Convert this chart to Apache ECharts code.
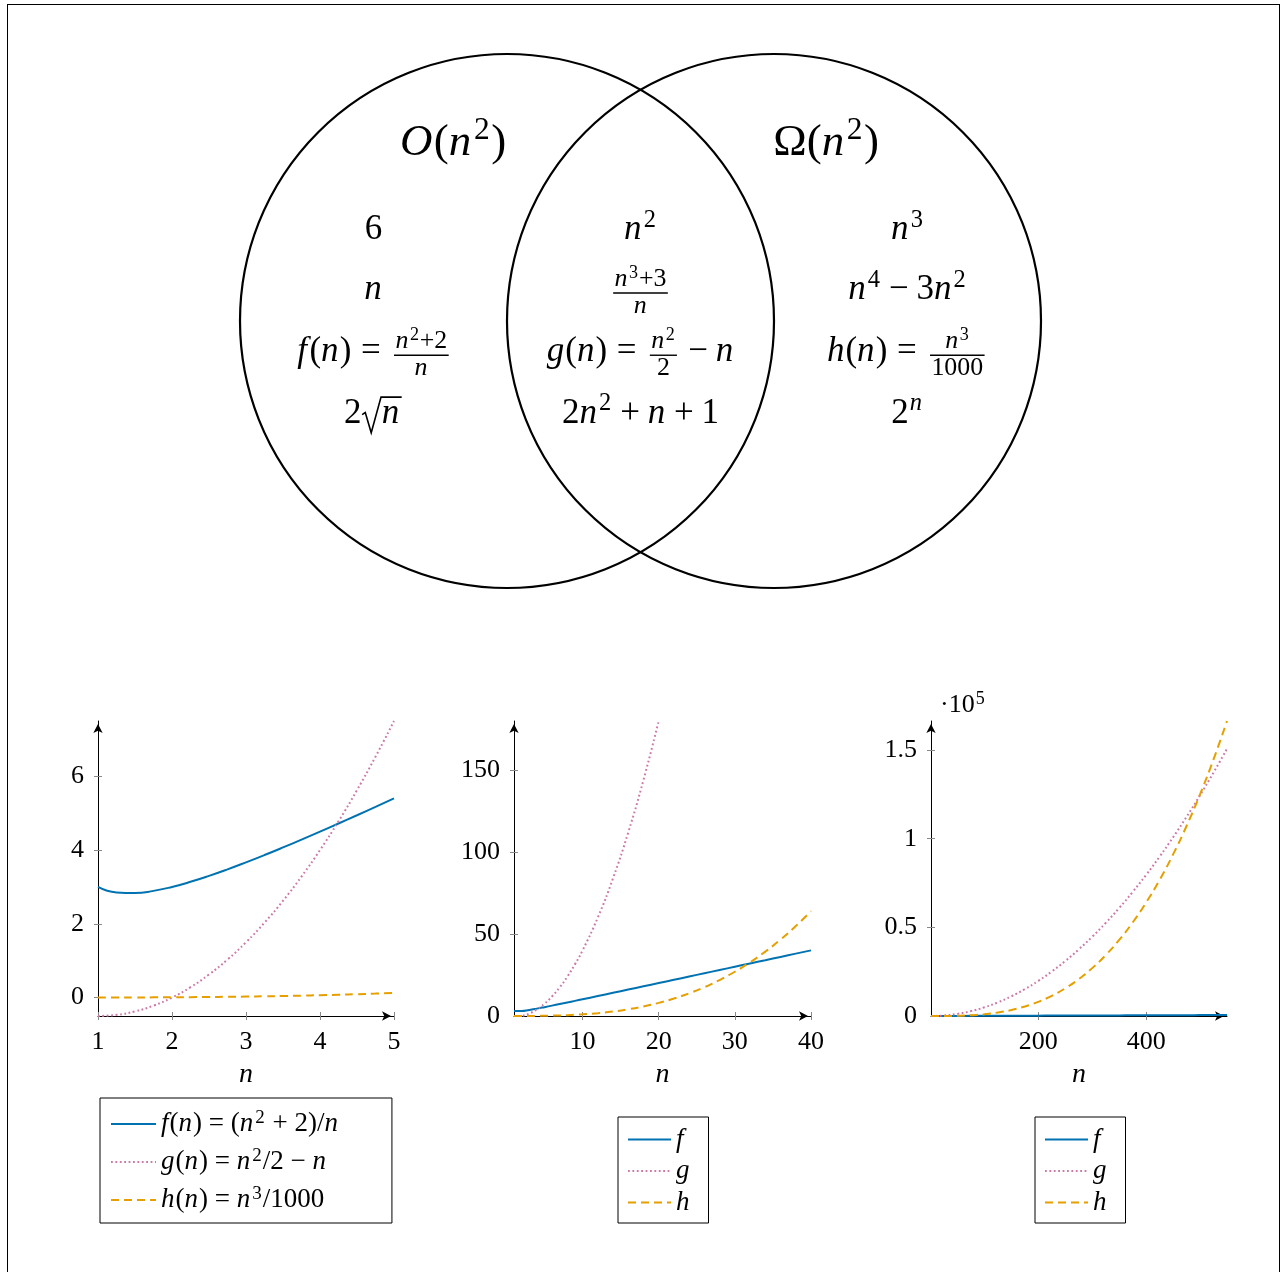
<!DOCTYPE html>
<html><head><meta charset="utf-8">
<script src="https://cdn.jsdelivr.net/npm/echarts@6/dist/echarts.min.js"></script>
<style>
html,body{margin:0;padding:0;background:#fff;}
#c{width:1282px;height:1272px;}
#frame{position:absolute;left:7px;top:4px;width:1273px;height:1300px;border:1px solid #000;box-sizing:border-box;pointer-events:none;}
</style>
</head><body><div id="c"></div><div id="frame"></div>
<script>
// ---------------- data ----------------
// Venn diagram content
const vennSetNames = ['O(n^2)', 'Ω(n^2)'];
const regionNames = ['O only', 'O and Ω', 'Ω only'];
const regionMembers = [
  ['6', 'n', 'f(n) = \\frac{n^2+2}{n}', '2\\sqrt{n}'],
  ['n^2', '\\frac{n^3+3}{n}', 'g(n) = \\frac{n^2}{2} - n', '2n^2 + n + 1'],
  ['n^3', 'n^4 - 3n^2', 'h(n) = \\frac{n^3}{1000}', '2^n']
];

// chart 1 (n from 1 to 5)
const n1 = [1,1.25,1.5,1.75,2,2.25,2.5,2.75,3,3.25,3.5,3.75,4,4.25,4.5,4.75,5];
const f1 = [3,2.85,2.833,2.893,3,3.139,3.3,3.477,3.667,3.865,4.071,4.283,4.5,4.721,4.944,5.171,5.4];
const g1 = [-0.5,-0.469,-0.375,-0.219,0,0.281,0.625,1.031,1.5,2.031,2.625,3.281,4,4.781,5.625,6.531,7.5];
const h1 = [0.001,0.00195,0.00338,0.00536,0.008,0.0114,0.0156,0.0208,0.027,0.0343,0.0429,0.0527,0.064,0.0768,0.0911,0.1072,0.125];
const legend1 = ['f(n) = (n^2 + 2)/n', 'g(n) = n^2/2 − n', 'h(n) = n^3/1000'];

// chart 2 (n from 1 to 40)
const n2 = [1,2,3,4,5,6,7,8,9,10,12,14,16,18,20,22,24,26,28,30,32,34,36,38,40];
const f2 = [3,3,3.667,4.5,5.4,6.333,7.286,8.25,9.222,10.2,12.167,14.143,16.125,18.111,20.1,22.091,24.083,26.077,28.071,30.067,32.063,34.059,36.056,38.053,40.05];
const h2 = [0.001,0.008,0.027,0.064,0.125,0.216,0.343,0.512,0.729,1,1.728,2.744,4.096,5.832,8,10.648,13.824,17.576,21.952,27,32.768,39.304,46.656,54.872,64];
const n2g = [1,2,3,4,5,6,7,8,9,10,12,14,16,18,20];
const g2 = [-0.5,0,1.5,4,7.5,12,17.5,24,31.5,40,60,84,112,144,180];

// chart 3 (n from 1 to 550)
const n3 = [1,25,50,75,100,125,150,175,200,225,250,275,300,325,350,375,400,425,450,475,500,525,550];
const f3 = [3,25.08,50.04,75.03,100.02,125.016,150.013,175.011,200.01,225.009,250.008,275.007,300.007,325.006,350.006,375.005,400.005,425.005,450.004,475.004,500.004,525.004,550.004];
const g3 = [-0.5,287.5,1200,2737.5,4900,7687.5,11100,15137.5,19800,25087.5,31000,37537.5,44700,52487.5,60900,69937.5,79600,89887.5,100800,112337.5,124500,137287.5,150700];
const h3 = [0.001,15.625,125,421.875,1000,1953.125,3375,5359.375,8000,11390.625,15625,20796.875,27000,34328.125,42875,52734.375,64000,76765.625,91125,107171.875,125000,144703.125,166375];
const legendShort = ['f', 'g', 'h'];

// tick labels
const x1Ticks = [1,2,3,4,5], y1Ticks = [0,2,4,6];
const x2Ticks = [10,20,30,40], y2Ticks = [0,50,100,150];
const x3Ticks = [200,400], y3Ticks = [0,50000,100000,150000];
const y3Scale = '·10^5';

// ---------------- layout / style ----------------
const FONT = 'Liberation Serif';
const COL = {f:'#0072B2', g:'#CC79A7', h:'#E69F00'};
const DASH = {f:'solid', g:[1.8,2.6], h:[8,5]};
const VENN = {
  circles: [[-0.5,0,1],[0.5,0,1]],
  labelX: [-0.702, 0.695], labelY: 0.61,
  colX: [-1.0, 0, 1.0], rowY: [0.296, 0.072, -0.161, -0.39],
  memberSize: 35, labelSize: 45, fracScale: 0.74
};

// ---------------- tiny math typesetter ----------------
const mctx = document.createElement('canvas').getContext('2d');
function fontStr(size, it){ return (it?'italic ':'') + size.toFixed(2) + 'px "' + FONT + '"'; }
function measure(t, size, it){ mctx.font = fontStr(size, it); return mctx.measureText(t).width; }

function parseTex(s){
  let i = 0;
  function atom(c){
    if (/[A-Za-z]/.test(c)) return {t:'ch', ch:c, it:true, cls:'ord'};
    if (c==='+'||c==='-'||c==='−') return {t:'ch', ch:c==='+'?'+':'−', it:false, cls:'bin'};
    if (c==='=') return {t:'ch', ch:'=', it:false, cls:'rel'};
    return {t:'ch', ch:c, it:false, cls:'ord'};
  }
  function arg(){
    while (s[i]===' ') i++;
    if (s[i]==='{'){ i++; const g = list(); i++; return g; }
    return [atom(s[i++])];
  }
  function list(){
    const out = [];
    while (i < s.length && s[i] !== '}'){
      const c = s[i];
      if (c===' '){ i++; continue; }
      if (c==='{'){ i++; const g = list(); i++; out.push({t:'grp', items:g}); continue; }
      if (c==='^'){ i++; const a = arg(); const base = out.pop() || {t:'grp', items:[]}; out.push({t:'sup', base:base, sup:a}); continue; }
      if (c==='\\'){
        i++; let nm = '';
        while (i < s.length && /[a-z]/.test(s[i])) nm += s[i++];
        if (nm==='frac'){ const a = arg(), b = arg(); out.push({t:'frac', num:a, den:b}); }
        else if (nm==='sqrt'){ out.push({t:'sqrt', body:arg()}); }
        continue;
      }
      i++; out.push(atom(c));
    }
    return out;
  }
  return list();
}
function clsOf(n){ if (n.t==='ch') return n.cls; if (n.t==='sup') return clsOf(n.base); return 'ord'; }
function shiftItems(items, dx, dy){
  return items.map(function(it){
    const o = Object.assign({}, it);
    if (o.k==='text'){ o.x += dx; o.y += dy; }
    else if (o.k==='line'){ o.x1 += dx; o.x2 += dx; o.y1 += dy; o.y2 += dy; }
    else if (o.k==='poly'){ o.pts = o.pts.map(function(p){ return [p[0]+dx, p[1]+dy]; }); }
    return o;
  });
}
function layList(list, size, script){
  let x = 0, asc = 0, desc = 0, items = [], prev = null;
  list.forEach(function(node, idx){
    let cls = clsOf(node);
    if (cls==='bin' && (prev===null || prev==='bin' || prev==='rel' || idx===list.length-1)) cls = 'ord';
    if (!script && prev){
      if (cls==='rel' || prev==='rel') x += 0.278*size;
      else if (cls==='bin' || prev==='bin') x += 0.222*size;
    }
    const b = layNode(node, size, script);
    items = items.concat(shiftItems(b.items, x, 0));
    x += b.w; asc = Math.max(asc, b.asc); desc = Math.max(desc, b.desc); prev = cls;
  });
  return {w:x, asc:asc, desc:desc, items:items};
}
function layNode(n, size, script){
  if (n.t==='ch'){
    let w = measure(n.ch, size, n.it);
    let ox = 0;
    if (n.it){ if (n.ch==='f'){ w += 0.14*size; ox = 0.07*size; } else w += 0.03*size; }
    return {w:w, asc:0.7*size, desc:0.22*size, items:[{k:'text', x:ox, y:0, text:n.ch, size:size, it:n.it}]};
  }
  if (n.t==='grp') return layList(n.items, size, script);
  if (n.t==='sup'){
    const b = layNode(n.base, size, script);
    const s = layList(n.sup, size*0.7, true);
    const up = (script?0.32:0.38)*size;
    const gap = 0.03*size;
    return {w:b.w+gap+s.w+0.03*size, asc:Math.max(b.asc, up+s.asc), desc:b.desc,
      items:b.items.concat(shiftItems(s.items, b.w+gap, -up))};
  }
  if (n.t==='frac'){
    const fs = size*VENN.fracScale;
    const nu = layList(n.num, fs, true), de = layList(n.den, fs, true);
    const inner = Math.max(nu.w, de.w) + 0.08*size;
    const pad = 0.1*size;
    const axis = 0.25*size, upN = 0.40*size, dnD = 0.37*size;
    const items = [].concat(
      shiftItems(nu.items, pad + (inner-nu.w)/2, -upN),
      shiftItems(de.items, pad + (inner-de.w)/2, dnD),
      [{k:'line', x1:pad, x2:pad+inner, y1:-axis, y2:-axis, lw:Math.max(1, 0.04*size)}]);
    return {w:inner+2*pad, asc:upN+nu.asc, desc:dnD+de.desc, items:items};
  }
  if (n.t==='sqrt'){
    const b = layList(n.body, size, script);
    const rw = 0.56*size, top = -0.8*size;
    const pts = [[0.02*size,-0.3*size],[0.11*size,-0.36*size],[0.28*size,0.22*size],[rw,top],[rw+b.w+0.06*size,top]];
    const items = [{k:'poly', pts:pts, lw:Math.max(1.2, 0.045*size)}].concat(shiftItems(b.items, rw+0.02*size, 0));
    return {w:rw+b.w+0.1*size, asc:-top, desc:0.22*size, items:items};
  }
  return {w:0, asc:0, desc:0, items:[]};
}
const boxCache = {};
function typeset(tex, size){
  const key = tex + '@' + size;
  if (!boxCache[key]) boxCache[key] = layList(parseTex(tex), size, false);
  return boxCache[key];
}
function boxToEls(box, x0, base){
  return box.items.map(function(it){
    if (it.k==='text') return {type:'text', x:x0+it.x, y:base+it.y-0.3375*it.size,
      style:{text:it.text, font:fontStr(it.size, it.it), fill:'#000', textAlign:'left', align:'left', textVerticalAlign:'middle', verticalAlign:'middle'}};
    if (it.k==='line') return {type:'line', shape:{x1:x0+it.x1, y1:base+it.y1, x2:x0+it.x2, y2:base+it.y2}, style:{stroke:'#000', lineWidth:it.lw}};
    return {type:'polyline', shape:{points:it.pts.map(function(p){ return [x0+p[0], base+p[1]]; })}, style:{stroke:'#000', fill:null, lineWidth:it.lw, lineJoin:'miter'}};
  });
}

// ---------------- rich text for legends / axis names ----------------
function toRich(s){
  let out = '', i = 0, buf = '', cur = null;
  const flush = function(){ if (buf){ out += '{' + cur + '|' + buf + '}'; buf = ''; } };
  while (i < s.length){
    const c = s[i];
    if (c==='^'){
      flush(); i++; let t = '';
      if (s[i]==='{'){ i++; while (s[i] !== '}') t += s[i++]; i++; } else t = s[i++];
      out += '{s|' + t + '}'; cur = null; continue;
    }
    const st = /[A-Za-z]/.test(c) ? 'i' : 'r';
    if (st !== cur){ flush(); cur = st; }
    buf += c; i++;
  }
  flush();
  return out;
}
function richStyles(fs, lh, sfs){
  return {
    i:{fontFamily:FONT, fontStyle:'italic', fontSize:fs, lineHeight:lh, color:'#000', padding:[0,1,0,0]},
    r:{fontFamily:FONT, fontSize:fs, lineHeight:lh, color:'#000'},
    s:{fontFamily:FONT, fontSize:sfs, lineHeight:sfs, verticalAlign:'top', color:'#000', padding:[0,1,0,1]}
  };
}

// ---------------- axes ----------------
const TICK = {color:'#888', width:1};
const LBL = {color:'#000', fontFamily:FONT, fontSize:26};
function xAxes(gi, min, max, ticks){
  return [
    {type:'value', gridIndex:gi, min:min, max:max, position:'bottom',
     axisLine:{show:true, onZero:false, symbol:['none','arrow'], symbolSize:[7,9], symbolOffset:[0,-3], lineStyle:{color:'#000', width:1}},
     axisTick:{show:true, inside:false, length:4, customValues:ticks, lineStyle:TICK},
     axisLabel:Object.assign({show:true, customValues:ticks, margin:13}, LBL),
     splitLine:{show:false}, name:'n', nameLocation:'middle', nameGap:45, nameMoveOverlap:false,
     nameTextStyle:{fontFamily:FONT, fontStyle:'italic', fontSize:28, color:'#000'}},
    {type:'value', gridIndex:gi, min:min, max:max, position:'bottom',
     axisLine:{show:false, onZero:false}, axisTick:{show:true, inside:true, length:4, customValues:ticks, lineStyle:TICK},
     axisLabel:{show:false}, splitLine:{show:false}}
  ];
}
function yAxes(gi, min, max, ticks, labels, fmt, extra){
  const main = {type:'value', gridIndex:gi, min:min, max:max, position:'left',
     axisLine:{show:true, onZero:false, symbol:['none','arrow'], symbolSize:[7,9], symbolOffset:[0,-3], lineStyle:{color:'#000', width:1}},
     axisTick:{show:true, inside:false, length:4, customValues:ticks, lineStyle:TICK},
     axisLabel:Object.assign({show:true, customValues:labels, margin:14, formatter:fmt}, LBL),
     splitLine:{show:false}};
  Object.assign(main, extra || {});
  return [main,
    {type:'value', gridIndex:gi, min:min, max:max, position:'left',
     axisLine:{show:false, onZero:false}, axisTick:{show:true, inside:true, length:4, customValues:ticks, lineStyle:TICK},
     axisLabel:{show:false}, splitLine:{show:false}}];
}
const pair = function(xs, ys){ return xs.map(function(x, i){ return [x, ys[i]]; }); };
function lineSeries(name, key, xi, yi, data){
  return {type:'line', name:name, xAxisIndex:xi, yAxisIndex:yi, data:data, symbol:'none', showSymbol:false, smooth:true,
    lineStyle:{color:COL[key], width:2, type:DASH[key]}, itemStyle:{color:COL[key]}, z:3, silent:true};
}

const xAxisList = [].concat(
  xAxes(0, 1, 5, x1Ticks), xAxes(1, 1, 40, x2Ticks), xAxes(2, 1, 550, x3Ticks),
  [{type:'value', gridIndex:3, min:-1.5, max:1.5, show:false}]);
const yAxisList = [].concat(
  yAxes(0, -0.5, 7.5, y1Ticks, y1Ticks),
  yAxes(1, 0, 180, y2Ticks.slice(1), y2Ticks),
  yAxes(2, 0, 166375, y3Ticks.slice(1), y3Ticks, function(v){ return String(v/100000); },
    {name:toRich(y3Scale), nameLocation:'end', nameGap:1, nameMoveOverlap:false,
     nameTextStyle:{align:'left', verticalAlign:'bottom', padding:[0,0,0,9], fontFamily:FONT, fontSize:26, lineHeight:30, rich:richStyles(26,30,18)}}),
  [{type:'value', gridIndex:3, min:-1, max:1, show:false}]);

// ---------------- Venn series ----------------
const memberData = [];
regionMembers.forEach(function(arr, col){ arr.forEach(function(tex, row){ memberData.push([VENN.colX[col], VENN.rowY[row], col, row]); }); });
const setLabelData = vennSetNames.map(function(nm, i){ return [VENN.labelX[i], VENN.labelY, i]; });

const vennSeries = [
  {type:'custom', name:'sets', xAxisIndex:6, yAxisIndex:6, silent:true, data:VENN.circles,
   renderItem:function(p, api){
     const c = api.coord([api.value(0), api.value(1)]);
     const r = api.size([api.value(2), api.value(2)])[0];
     return {type:'circle', shape:{cx:c[0], cy:c[1], r:r}, style:{fill:'none', stroke:'#000', lineWidth:2.2}};
   }},
  {type:'custom', name:'members', xAxisIndex:6, yAxisIndex:6, silent:true, data:memberData,
   renderItem:function(p, api){
     const tex = regionMembers[api.value(2)][api.value(3)];
     const box = typeset(tex, VENN.memberSize);
     const c = api.coord([api.value(0), api.value(1)]);
     return {type:'group', children:boxToEls(box, c[0]-box.w/2, c[1])};
   }},
  {type:'custom', name:'setLabels', xAxisIndex:6, yAxisIndex:6, silent:true, data:setLabelData,
   renderItem:function(p, api){
     const box = typeset(vennSetNames[api.value(2)], VENN.labelSize);
     const c = api.coord([api.value(0), api.value(1)]);
     return {type:'group', children:boxToEls(box, c[0]-box.w/2, c[1])};
   }}
];

// ---------------- legends ----------------
function legendCfg(data, left, top, padding, iw, gap, fs, lh){
  return {data:data, left:left, top:top, orient:'vertical', itemWidth:iw, itemHeight:14, itemGap:gap,
    padding:padding, borderColor:'#000', borderWidth:1, borderRadius:0, selectedMode:false,
    itemStyle:{opacity:0, borderWidth:0},
    formatter:toRich, textStyle:{fontFamily:FONT, fontSize:fs, lineHeight:lh, color:'#000', rich:richStyles(fs, lh, Math.round(fs*0.7))}};
}

const option = {
  animation:false,
  backgroundColor:'#fff',
  grid:[
    {left:98, top:721, width:296, height:295, outerBoundsMode:'none'},
    {left:514, top:721, width:297, height:295, outerBoundsMode:'none'},
    {left:931, top:721, width:296, height:295, outerBoundsMode:'none'},
    {left:240, top:54, width:801, height:534, outerBoundsMode:'none'}
  ],
  xAxis:xAxisList,
  yAxis:yAxisList,
  legend:[
    legendCfg(legend1, 100, 1098, [11,53,8,10], 45, 8, 27, 30),
    legendCfg(legendShort, 618, 1117, [9,18,7,9], 43, 4.5, 27, 26),
    legendCfg(legendShort, 1035, 1117, [9,18,7,9], 43, 4.5, 27, 26)
  ],
  series:[].concat(
    [lineSeries(legend1[0], 'f', 0, 0, pair(n1, f1)),
     lineSeries(legend1[1], 'g', 0, 0, pair(n1, g1)),
     lineSeries(legend1[2], 'h', 0, 0, pair(n1, h1)),
     lineSeries('f', 'f', 2, 2, pair(n2, f2)),
     lineSeries('g', 'g', 2, 2, pair(n2g, g2)),
     lineSeries('h', 'h', 2, 2, pair(n2, h2)),
     lineSeries('f', 'f', 4, 4, pair(n3, f3)),
     lineSeries('g', 'g', 4, 4, pair(n3, g3)),
     lineSeries('h', 'h', 4, 4, pair(n3, h3))],
    vennSeries)
};
const chart = echarts.init(document.getElementById('c'), null, {renderer:'canvas'});
chart.setOption(option);
</script></body></html>
